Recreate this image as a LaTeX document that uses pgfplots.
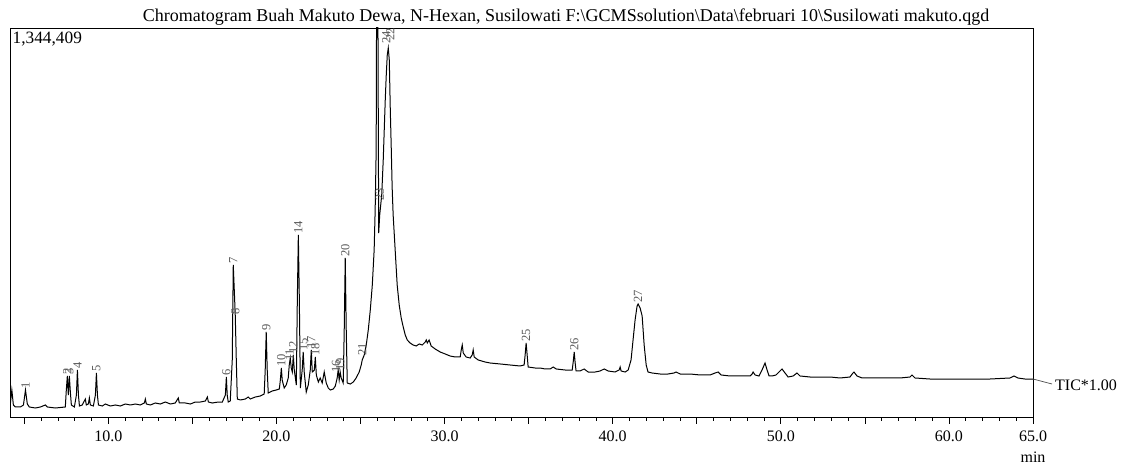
\documentclass[border=0pt]{standalone}
\usepackage{fontspec}
\setmainfont{Liberation Serif}
\usepackage{pgfplots}
\pgfplotsset{compat=1.18}

% retention time (min) vs. intensity (x1000 counts); full scale = 1,344,409
\pgfplotstableread{
t I
4.17 44.9
4.26 93.3
4.35 41.5
4.47 34.6
4.77 34.6
4.95 41.5
5.07 93.3
5.18 44.9
5.30 34.6
5.66 31.1
5.96 34.6
6.25 41.5
6.37 34.6
6.85 31.1
7.44 34.6
7.50 93.3
7.56 141.7
7.62 76.0
7.68 141.7
7.74 86.4
7.80 41.5
7.98 34.6
8.10 76.0
8.16 162.4
8.22 76.0
8.28 38.0
8.45 41.5
8.63 62.2
8.69 41.5
8.81 44.9
8.87 65.7
8.93 41.5
9.11 38.0
9.23 76.0
9.29 152.1
9.35 76.0
9.41 41.5
9.64 38.0
9.82 44.9
10.12 38.0
10.42 41.5
10.71 38.0
11.01 44.9
11.31 41.5
11.61 44.9
11.90 41.5
12.14 48.4
12.20 62.2
12.26 44.9
12.50 41.5
12.79 48.4
13.09 44.9
13.39 51.8
13.69 44.9
13.98 48.4
14.16 65.7
14.22 48.4
14.58 48.4
14.88 44.9
15.17 51.8
15.47 51.8
15.77 55.3
15.89 69.1
15.95 51.8
16.18 48.4
16.54 51.8
16.78 51.8
16.96 76.0
17.02 138.2
17.07 76.0
17.13 51.8
17.25 55.3
17.37 197.0
17.43 525.3
17.49 438.9
17.55 349.1
17.61 197.0
17.67 62.2
17.85 58.8
18.15 62.2
18.32 69.1
18.44 62.2
18.74 69.1
19.04 72.6
19.27 79.5
19.33 162.4
19.39 293.8
19.45 162.4
19.51 82.9
19.75 89.9
19.99 93.3
20.17 96.8
20.23 127.9
20.29 169.3
20.34 127.9
20.46 100.2
20.58 110.6
20.70 134.8
20.76 179.7
20.82 203.9
20.88 169.3
20.94 155.5
21.00 214.3
21.06 162.4
21.18 110.6
21.24 404.4
21.30 629.0
21.36 404.4
21.42 100.2
21.53 162.4
21.59 224.6
21.65 155.5
21.77 86.4
21.89 110.6
22.01 162.4
22.07 231.6
22.13 155.5
22.25 162.4
22.31 207.4
22.37 145.2
22.49 121.0
22.60 134.8
22.72 117.5
22.84 155.5
22.96 117.5
23.08 100.2
23.20 93.3
23.38 96.8
23.50 107.1
23.61 134.8
23.67 162.4
23.73 127.9
23.79 155.5
23.85 134.8
23.97 117.5
24.03 300.7
24.09 549.5
24.15 300.7
24.21 117.5
24.39 114.0
24.57 121.0
24.74 134.8
24.92 155.5
25.04 179.7
25.10 197.0
25.22 214.3
25.34 248.8
25.46 300.7
25.58 369.8
25.70 456.2
25.81 577.2
25.87 715.4
25.93 922.8
25.99 2100.0
26.08 635.9
26.14 698.1
26.20 732.7
26.26 767.2
26.35 888.2
26.41 991.9
26.47 1095.6
26.53 1182.0
26.59 1251.1
26.65 1275.3
26.71 1233.8
26.77 1061.0
26.83 922.8
26.88 794.9
26.94 698.1
27.06 577.2
27.18 456.2
27.30 387.1
27.42 342.1
27.54 311.0
27.66 283.4
27.78 266.1
27.95 255.7
28.13 248.8
28.31 245.4
28.49 252.3
28.67 248.8
28.85 259.2
28.91 266.1
28.97 255.7
29.08 266.1
29.20 245.4
29.44 235.0
29.74 224.6
30.04 217.7
30.33 210.8
30.63 207.4
30.93 207.4
30.99 231.6
31.05 248.8
31.11 221.2
31.28 207.4
31.52 203.9
31.64 214.3
31.70 231.6
31.76 207.4
32.00 197.0
32.41 190.1
32.71 186.6
33.31 183.2
33.90 179.7
34.49 176.3
34.73 179.7
34.79 214.3
34.85 255.7
34.91 214.3
34.97 172.8
35.39 169.3
35.68 169.3
35.98 165.9
36.28 165.9
36.46 172.8
36.64 165.9
37.17 162.4
37.59 162.4
37.65 190.1
37.71 224.6
37.76 190.1
37.82 159.0
38.06 159.0
38.30 165.9
38.54 155.5
38.95 155.5
39.25 159.0
39.49 165.9
39.73 159.0
40.14 155.5
40.38 162.4
40.44 172.8
40.50 159.0
40.74 155.5
40.92 162.4
41.09 197.0
41.21 266.1
41.33 335.2
41.45 383.6
41.51 390.5
41.63 376.7
41.75 349.1
41.87 248.8
41.99 179.7
42.10 155.5
42.34 152.1
42.82 148.6
43.29 148.6
43.65 152.1
43.77 155.5
44.01 148.6
44.60 148.6
45.20 145.2
45.79 145.2
46.09 152.1
46.27 155.5
46.45 145.2
46.98 141.7
47.57 141.7
48.17 141.7
48.29 148.6
48.35 155.5
48.47 145.2
48.70 141.7
48.88 162.4
49.06 186.6
49.18 162.4
49.30 141.7
49.48 141.7
49.71 145.2
49.89 155.5
50.07 165.9
50.25 152.1
50.43 138.2
50.73 141.7
50.96 152.1
51.14 141.7
51.74 138.2
52.33 138.2
52.93 138.2
53.52 134.8
54.11 138.2
54.29 152.1
54.35 155.5
54.53 141.7
54.83 134.8
55.90 134.8
57.09 134.8
57.68 138.2
57.80 145.2
57.98 134.8
58.87 131.3
60.06 131.3
61.25 131.3
62.44 131.3
63.63 134.8
63.87 141.7
64.10 134.8
64.52 131.3
65.00 131.3
}\tic

% peak numbers
\pgfplotstableread{
t I lab
5.07 93.3 1
7.56 141.7 2
7.68 141.7 3
8.16 162.4 4
9.29 152.1 5
17.02 138.2 6
17.43 525.3 7
17.55 349.1 8
19.39 293.8 9
20.29 169.3 10
20.78 190.0 11
21.00 214.3 12
21.30 629.0 14
21.59 224.6 15
22.07 231.6 17
22.31 207.4 18
23.55 150.0 16
23.79 155.5 19
24.09 549.5 20
25.10 207.0 21
26.14 743.0 23
26.53 1286.0 24
26.77 1296.0 22
34.85 255.7 25
37.71 224.6 26
41.51 390.5 27
}\peaks

\begin{document}
\begin{tikzpicture}
\useasboundingbox (-10pt,-48pt) rectangle (1116pt,417pt);
\begin{axis}[
  scale only axis,
  width=1023pt, height=389pt,
  xmin=4.15, xmax=65, ymin=0, ymax=1344.409,
  axis line style={line width=0.9pt},
  xtick={5,10,...,65},
  xticklabels={,10.0,,20.0,,30.0,,40.0,,50.0,,60.0,65.0},
  minor x tick num=4,
  xtick pos=bottom, xtick align=outside,
  major tick length=7pt, minor tick length=4pt,
  every tick/.style={black, line width=0.8pt},
  ytick=\empty,
  xticklabel style={font=\fontsize{16}{18}\selectfont, yshift=-3pt},
]
\addplot[black, line width=1pt] table[x=t, y=I] {\tic};
\addplot[only marks, mark=*, mark size=0pt, mark options={draw=none, fill=none},
  nodes near coords, point meta=explicit symbolic,
  nodes near coords style={rotate=90, anchor=west, inner sep=1pt, text=black!65,
    font=\fontsize{12.5}{13}\selectfont}]
  table[x=t, y=I, meta=lab] {\peaks};
\coordinate (ticend) at (axis cs:65,131.3);
\end{axis}
\node[anchor=base, font=\fontsize{18}{20}\selectfont] at (556pt,395pt)
  {Chromatogram Buah Makuto Dewa, N-Hexan, Susilowati F:\textbackslash GCMSsolution\textbackslash Data\textbackslash februari 10\textbackslash Susilowati makuto.qgd};
\node[anchor=north west, inner sep=0pt, font=\fontsize{17.3}{19}\selectfont] at (2.5pt,385pt) {1,344,409};
\draw[black!70, line width=0.7pt] (ticend) -- (1042pt,33pt);
\node[anchor=west, inner sep=0pt, font=\fontsize{16}{18}\selectfont] at (1045pt,32pt) {TIC*1.00};
\node[anchor=base, font=\fontsize{16}{18}\selectfont] at (1023pt,-46pt) {min};
\end{tikzpicture}
\end{document}
